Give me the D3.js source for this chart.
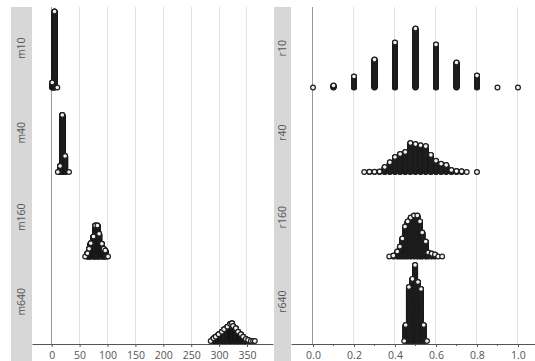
<!DOCTYPE html>
<html><head><meta charset="utf-8">
<script src="https://cdn.jsdelivr.net/npm/d3@7"></script>
<style>body{margin:0;background:#fff}svg{display:block}</style>
</head><body>
<svg id="c" width="535" height="361"></svg>
<script>
// ---- data: [bin value, number of dots stacked] ----
const mRows = ["m10", "m40", "m160", "m640"];
const rRows = ["r10", "r40", "r160", "r640"];
const mTicks = [0, 50, 100, 150, 200, 250, 300, 350];
const rTicks = [0, 0.2, 0.4, 0.6, 0.8, 1.0];
const rMinorTicks = [0.1, 0.3, 0.5, 0.7, 0.9];

const m10 = [[1, 51], [5, 761], [10, 1]];
const m40 = [[11, 1], [15, 61], [19, 571], [24, 161], [31, 1]];
const m160 = [[60, 1], [64, 34], [67, 78], [70, 134], [75, 201], [78, 311], [82, 311], [85, 228], [90, 128], [93, 78], [96, 61], [99, 1], [101, 1]];
const m640 = [[285, 1], [290, 28], [294, 44], [299, 68], [305, 94], [309, 118], [315, 144], [320, 171], [323, 178], [325, 151], [330, 128], [334, 94], [339, 68], [343, 44], [348, 21], [352, 11], [357, 1], [361, 1], [364, 1]];

const r10 = [[0.0, 1], [0.1, 10], [0.2, 50], [0.3, 125], [0.4, 201], [0.5, 263], [0.6, 192], [0.7, 112], [0.8, 54], [0.9, 1], [1.0, 1]];
const r40 = [[0.25, 1], [0.275, 2], [0.3, 2], [0.325, 3], [0.35, 23], [0.375, 44], [0.4, 68], [0.425, 81], [0.45, 90], [0.475, 130], [0.5, 125], [0.525, 120], [0.55, 116], [0.575, 77], [0.6, 51], [0.625, 38], [0.65, 32], [0.675, 10], [0.7, 5], [0.725, 4], [0.75, 1], [0.8, 1]];
const r160 = [[0.372, 1], [0.392, 5], [0.411, 23], [0.424, 45], [0.436, 81], [0.449, 134], [0.462, 157], [0.477, 174], [0.493, 183], [0.509, 183], [0.522, 157], [0.533, 108], [0.55, 68], [0.562, 19], [0.579, 14], [0.595, 10], [0.611, 1], [0.63, 1]];
const r640 = [[0.445, 1], [0.452, 72], [0.468, 241], [0.485, 277], [0.498, 339], [0.512, 263], [0.527, 232], [0.54, 72], [0.556, 1]];

// ---- layout ----
const svg = d3.select("#c");
const TOP = 6, AXIS_Y = 344, STRIP_TOP = 7;
const panels = [
  { rows: mRows, data: [m10, m40, m160, m640], strip: [11, 32], plot: [32, 273],
    domain: [-35.3, 396.6], ticks: mTicks, minor: [], fmt: d3.format("d"), step: 0.1 },
  { rows: rRows, data: [r10, r40, r160, r640], strip: [274, 291], plot: [291, 535],
    domain: [-0.1073, 1.083], ticks: rTicks, minor: rMinorTicks, fmt: d3.format(".1f"), step: 0.225 }
];
const R = 2.4;
const FONT = "'Open Sans', 'DejaVu Sans', sans-serif";

panels.forEach(p => {
  const x = d3.scaleLinear().domain(p.domain).range(p.plot);
  const y = d3.scaleBand().domain(p.rows).range([TOP, AXIS_Y]);
  const g = svg.append("g");

  g.append("rect").attr("x", p.strip[0]).attr("y", STRIP_TOP)
    .attr("width", p.strip[1] - p.strip[0]).attr("height", 361 - STRIP_TOP)
    .attr("fill", "#d7d7d7");

  g.selectAll("line.grid").data(p.ticks).join("line")
    .attr("x1", d => x(d)).attr("x2", d => x(d))
    .attr("y1", STRIP_TOP).attr("y2", AXIS_Y)
    .attr("stroke", d => d === 0 ? "#9a9a9a" : "#e2e2e2")
    .attr("stroke-width", 1).attr("shape-rendering", "crispEdges");

  g.selectAll("text.row").data(p.rows).join("text")
    .attr("transform", d => `translate(${(p.strip[0] + p.strip[1]) / 2 + 3.5},${y(d) + y.bandwidth() / 2}) rotate(-90)`)
    .attr("text-anchor", "middle")
    .attr("font-family", FONT).attr("font-size", 10.5).attr("fill", "#555")
    .text(d => d);

  p.rows.forEach((row, i) => {
    const base = y(row) + y.bandwidth() - 3;
    const bodies = [], tops = [];
    p.data[i].forEach(([v, n]) => {
      for (let j = 0; j < n; j++) {
        const pt = { cx: x(v), cy: base - j * p.step };
        if (j === n - 1) tops.push(pt); else bodies.push(pt);
      }
    });
    const dg = g.append("g");
    dg.selectAll("circle.b").data(bodies).join("circle")
      .attr("cx", d => d.cx).attr("cy", d => d.cy).attr("r", R)
      .attr("fill", "#fff").attr("stroke", "#1e1e1e").attr("stroke-width", 1.2);
    dg.selectAll("circle.t").data(tops).join("circle")
      .attr("cx", d => d.cx).attr("cy", d => d.cy).attr("r", R)
      .attr("fill", "#f2f2f2").attr("stroke", "#1e1e1e").attr("stroke-width", 1.2);
  });

  const ax = g.append("g").attr("transform", `translate(0,${AXIS_Y})`);
  ax.call(d3.axisBottom(x).tickValues(p.ticks).tickFormat(p.fmt).tickSize(3).tickSizeOuter(0));
  ax.select(".domain").attr("stroke", "#555");
  ax.selectAll(".tick line").attr("stroke", "#555");
  ax.selectAll(".tick text").attr("font-family", FONT)
    .attr("font-size", 10.5).attr("fill", "#555").attr("dy", "0.9em");
  ax.selectAll("line.minor").data(p.minor).join("line")
    .attr("x1", d => x(d)).attr("x2", d => x(d)).attr("y1", 0).attr("y2", 2)
    .attr("stroke", "#555");
});
</script>
</body></html>
